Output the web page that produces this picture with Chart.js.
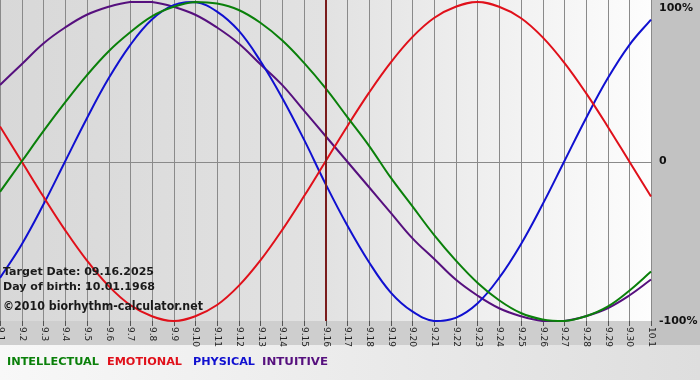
<!DOCTYPE html>
<html>
<head>
<meta charset="utf-8">
<script src="https://cdn.jsdelivr.net/npm/chart.js@4.4.1/dist/chart.umd.min.js"></script>
<style>
html,body{margin:0;padding:0;background:#fff;}
#wrap{width:700px;height:380px;}
</style>
</head>
<body>
<div id="wrap"><canvas id="c" width="700" height="380"></canvas></div>
<script>
const categories = ['9.1','9.2','9.3','9.4','9.5','9.6','9.7','9.8','9.9','9.10','9.11','9.12','9.13','9.14','9.15','9.16','9.17','9.18','9.19','9.20','9.21','9.22','9.23','9.24','9.25','9.26','9.27','9.28','9.29','9.30','10.1'];
const intellectual = [-19,0,19,37,54,69,81,91,97,100,99,95,87,76,62,46,28,10,-10,-28,-46,-62,-76,-87,-95,-99,-100,-97,-91,-81,-69];
const emotional = [22,0,-22,-43,-62,-78,-90,-97,-100,-97,-90,-78,-62,-43,-22,0,22,43,62,78,90,97,100,97,90,78,62,43,22,0,-22];
const physical = [-73,-52,-27,0,27,52,73,89,98,100,94,82,63,40,14,-14,-40,-63,-82,-94,-100,-98,-89,-73,-52,-27,0,27,52,73,89];
const intuitive = [48,61,74,84,92,97,100,100,97,92,84,74,61,48,32,16,0,-16,-32,-48,-61,-74,-84,-92,-97,-100,-100,-97,-92,-84,-74];
const yTickValues = [100, 0, -100];
const yTickLabels = ['100%', '0', '-100%'];
const targetIndex = 15;
const infoLines = ['Target Date: 09.16.2025', 'Day of birth: 10.01.1968', '\u00A92010 biorhythm-calculator.net'];
const legendNames = ['INTELLECTUAL', 'EMOTIONAL', 'PHYSICAL', 'INTUITIVE'];
const colors = ['#0a800a', '#e0101a', '#1010d0', '#56107e'];

const decor = {
  id: 'decor',
  beforeDraw(chart) {
    const ctx = chart.ctx, a = chart.chartArea;
    ctx.save();
    let g = ctx.createLinearGradient(0, 0, 700, 0);
    g.addColorStop(0, '#f8f8f8'); g.addColorStop(1, '#dedede');
    ctx.fillStyle = g; ctx.fillRect(0, 0, 700, 380);
    ctx.fillStyle = '#cecece'; ctx.fillRect(0, a.bottom, a.right, 345 - a.bottom);
    ctx.fillStyle = '#c2c2c2'; ctx.fillRect(a.right, 0, 700 - a.right, 345);
    g = ctx.createLinearGradient(a.left, 0, a.right, 0);
    g.addColorStop(0, '#d8d8d8'); g.addColorStop(0.5, '#e2e2e2'); g.addColorStop(1, '#fdfdfd');
    ctx.fillStyle = g; ctx.fillRect(a.left, 0, a.right - a.left, a.bottom);
    ctx.restore();
  },
  beforeDatasetsDraw(chart) {
    const ctx = chart.ctx, a = chart.chartArea, xs = chart.scales.x, ys = chart.scales.y;
    ctx.save();
    ctx.strokeStyle = '#8a8a8a'; ctx.lineWidth = 1;
    categories.forEach((c, i) => {
      const x = Math.round(xs.getPixelForValue(i)) + 0.5;
      ctx.beginPath(); ctx.moveTo(x, 0); ctx.lineTo(x, a.bottom); ctx.stroke();
    });
    const y0 = Math.round(ys.getPixelForValue(0)) + 0.5;
    ctx.beginPath(); ctx.moveTo(a.left, y0); ctx.lineTo(a.right, y0); ctx.stroke();
    ctx.strokeStyle = '#555';
    categories.forEach((c, i) => {
      const x = Math.round(xs.getPixelForValue(i)) + 0.5;
      ctx.beginPath(); ctx.moveTo(x, a.bottom); ctx.lineTo(x, a.bottom + 5); ctx.stroke();
    });
    ctx.fillStyle = '#222'; ctx.font = '9px "DejaVu Sans"';
    ctx.textAlign = 'left'; ctx.textBaseline = 'middle';
    categories.forEach((c, i) => {
      const x = xs.getPixelForValue(i);
      ctx.save(); ctx.translate(x + 0.5, a.bottom + 6); ctx.rotate(Math.PI / 2);
      ctx.fillText(c, 0, 0); ctx.restore();
    });
    ctx.fillStyle = '#111'; ctx.font = 'bold 11px "DejaVu Sans"';
    yTickValues.forEach((v, i) => {
      let y = ys.getPixelForValue(v);
      if (i === 0) y = 8;
      ctx.fillText(yTickLabels[i], 659, y);
    });
    ctx.restore();
  },
  afterDatasetsDraw(chart) {
    const ctx = chart.ctx, a = chart.chartArea, xs = chart.scales.x;
    ctx.save();
    const xt = Math.round(xs.getPixelForValue(targetIndex));
    ctx.fillStyle = '#7a1c1c'; ctx.fillRect(xt - 1, 0, 2, a.bottom);
    ctx.fillStyle = '#1a1a1a'; ctx.textBaseline = 'middle'; ctx.textAlign = 'left';
    const infoY = [272, 287, 307], infoW = [151, 152, 200], infoF = [11, 11, 12];
    infoLines.forEach((t, i) => {
      ctx.font = 'bold ' + infoF[i] + 'px "DejaVu Sans"';
      const w = ctx.measureText(t).width;
      ctx.save(); ctx.translate(3, infoY[i]); ctx.scale(infoW[i] / w, 1);
      ctx.fillText(t, 0, 0); ctx.restore();
    });
    const lx = [7, 107, 193, 262], lw = [92, 75, 62, 66];
    ctx.font = 'bold 11px "DejaVu Sans"';
    legendNames.forEach((t, i) => {
      ctx.fillStyle = colors[i];
      const w = ctx.measureText(t).width;
      ctx.save(); ctx.translate(lx[i], 362); ctx.scale(lw[i] / w, 1);
      ctx.fillText(t, 0, 0); ctx.restore();
    });
    ctx.restore();
  }
};

const mk = (label, data, color) => ({ label, data, borderColor: color, borderWidth: 2, pointRadius: 0, tension: 0.4, fill: false, clip: false });

new Chart(document.getElementById('c'), {
  type: 'line',
  data: {
    labels: categories,
    datasets: [
      mk(legendNames[0], intellectual, colors[0]),
      mk(legendNames[1], emotional, colors[1]),
      mk(legendNames[2], physical, colors[2]),
      mk(legendNames[3], intuitive, colors[3])
    ]
  },
  options: {
    responsive: false,
    animation: false,
    devicePixelRatio: 1,
    layout: { padding: { left: 0, right: 49, top: 2, bottom: 59 } },
    plugins: { legend: { display: false }, tooltip: { enabled: false } },
    scales: {
      x: { display: false, offset: false },
      y: { display: false, min: -100, max: 100 }
    }
  },
  plugins: [decor]
});
</script>
</body>
</html>
